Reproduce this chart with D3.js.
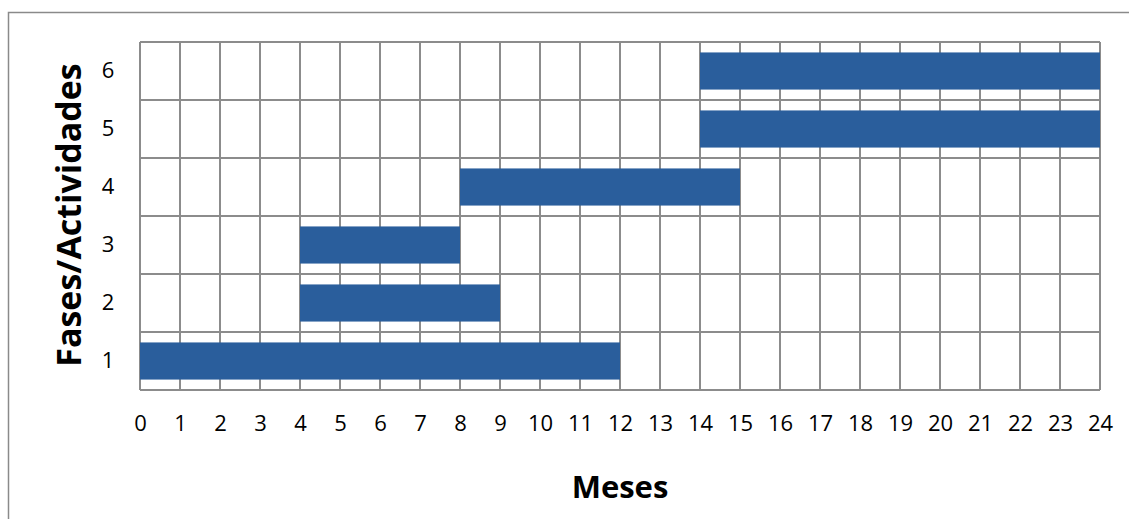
<!DOCTYPE html>
<html>
<head>
<meta charset="utf-8">
<script src="https://cdn.jsdelivr.net/npm/d3@7"></script>
<style>
  html, body { margin: 0; padding: 0; background: #fff; }
  svg { display: block; }
  text { font-family: "Open Sans", "Noto Sans", sans-serif; fill: #000; }
  .tick text { font-size: 22px; font-family: "Open Sans", sans-serif; fill: #000; }
</style>
</head>
<body>
<svg id="chart" width="1129" height="519"></svg>
<script>
// Phases of the project (rows) and their start / end month
const phases = [1, 2, 3, 4, 5, 6];
const startMonth = [0, 4, 4, 8, 14, 14];
const endMonth = [12, 9, 8, 15, 24, 24];
const monthTicks = d3.range(0, 25);

const svg = d3.select("#chart");
const W = 1129, H = 519;
const margin = { left: 140, right: 29, top: 42, bottom: 129 };

// outer chart frame
svg.append("rect")
  .attr("x", 8.5).attr("y", 12.5)
  .attr("width", W + 10).attr("height", H + 10)
  .attr("fill", "none").attr("stroke", "#8a8a8a").attr("stroke-width", 1.5);

const x = d3.scaleLinear().domain([0, 24]).range([margin.left, W - margin.right]);
const y = d3.scaleBand().domain(phases.slice().reverse()).range([margin.top, H - margin.bottom]).paddingInner(0).paddingOuter(0);

const grid = svg.append("g").attr("stroke", "#8c8c8c").attr("stroke-width", 2);
// vertical month grid
grid.selectAll("line.v").data(monthTicks).join("line")
  .attr("x1", d => x(d)).attr("x2", d => x(d))
  .attr("y1", margin.top).attr("y2", H - margin.bottom);
// horizontal row boundaries
const rowEdges = phases.map(p => y(p)).concat([H - margin.bottom]);
grid.selectAll("line.h").data(rowEdges).join("line")
  .attr("x1", margin.left).attr("x2", W - margin.right)
  .attr("y1", d => d).attr("y2", d => d);

// bars
const barFrac = 0.64;
const tasks = phases.map((p, i) => ({ phase: p, start: startMonth[i], end: endMonth[i] }));
svg.append("g").selectAll("rect").data(tasks).join("rect")
  .attr("x", d => x(d.start))
  .attr("width", d => x(d.end) - x(d.start))
  .attr("y", d => y(d.phase) + y.bandwidth() * (1 - barFrac) / 2)
  .attr("height", y.bandwidth() * barFrac)
  .attr("fill", "#2a5e9c");

// x axis labels
const xAxis = d3.axisBottom(x).tickValues(monthTicks).tickFormat(d3.format("d")).tickSize(0).tickPadding(0);
const gx = svg.append("g").attr("transform", `translate(0,${H - margin.bottom + 25})`).call(xAxis);
gx.select(".domain").remove();
gx.attr("font-size", null).attr("font-family", null);

// y axis labels
const yAxis = d3.axisLeft(y).tickSize(0).tickPadding(0);
const gy = svg.append("g").attr("transform", `translate(${margin.left - 32},0)`).call(yAxis);
gy.select(".domain").remove();
gy.attr("font-size", null).attr("font-family", null);
gy.selectAll("text").attr("text-anchor", "middle");

// axis titles
svg.append("text")
  .attr("x", x(12)).attr("y", 498)
  .attr("text-anchor", "middle")
  .style("font-size", "31px").attr("font-weight", "bold")
  .text("Meses");

svg.append("text")
  .attr("transform", `translate(81,${(margin.top + H - margin.bottom) / 2 - 1}) rotate(-90)`)
  .attr("text-anchor", "middle")
  .style("font-size", "34px").attr("font-weight", "bold")
  .text("Fases/Actividades");
</script>
</body>
</html>
